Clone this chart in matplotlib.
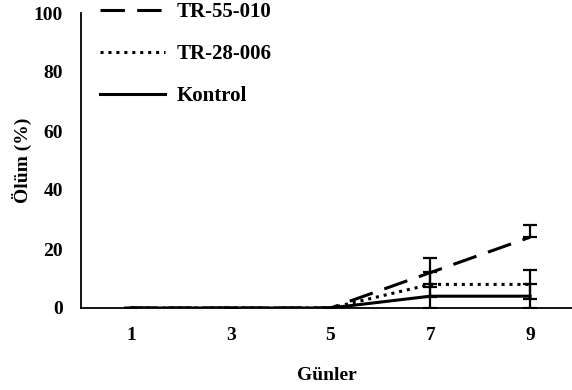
import numpy as np
import matplotlib
matplotlib.use("Agg")
import matplotlib.pyplot as plt

plt.rcParams['font.family'] = ['Liberation Serif', 'DejaVu Serif']
plt.rcParams['font.weight'] = 'bold'

# data
days = ['1', '3', '5', '7', '9']
tr55 = [0, 0, 0, 12, 24]
tr55_lo = [0, 0, 0, 5, 0]
tr55_hi = [0, 0, 0, 5, 4]
tr28 = [0, 0, 0, 8, 8]
tr28_err = [0, 0, 0, 4.3, 5]
kontrol = [0, 0, 0, 4, 4]
kontrol_err = [0, 0, 0, 4, 4]

fig = plt.figure(figsize=(5.72, 3.9), dpi=100)
ax = fig.add_axes([81/572, 82/390, 491/572, 295/390])

x = np.arange(len(days))
lw = 2.2
ax.plot(x, tr55, color='black', lw=lw, dashes=(8, 4), label='TR-55-010')
ax.plot(x, tr28, color='black', lw=lw, linestyle=(0, (1, 1.6)), label='TR-28-006')
ax.plot(x, kontrol, color='black', lw=lw, label='Kontrol')

ebkw = dict(fmt='none', ecolor='black', elinewidth=1.6, capsize=5, capthick=1.6)
ax.errorbar(x, tr55, yerr=[tr55_lo, tr55_hi], **ebkw)
ax.errorbar(x, tr28, yerr=tr28_err, **ebkw)
ax.errorbar(x, kontrol, yerr=kontrol_err, **ebkw)

ax.set_xlim(-0.5, 4.42)
ax.set_ylim(0, 100)
ax.set_xticks(x)
ax.set_xticklabels(days)
ax.set_yticks([0, 20, 40, 60, 80, 100])
ax.tick_params(length=0, labelsize=14)
ax.tick_params(axis='y', pad=13)
ax.tick_params(axis='x', pad=14)
for s in ['top', 'right']:
    ax.spines[s].set_visible(False)
for s in ['left', 'bottom']:
    ax.spines[s].set_linewidth(1.3)

ax.set_xlabel('Günler', fontsize=14, fontweight='bold', labelpad=16)
ax.set_ylabel('Ölüm (%)', fontsize=14, fontweight='bold', labelpad=1)

leg = ax.legend(loc='upper left', bbox_to_anchor=(0.0387, 1.036), frameon=False,
                borderpad=0, borderaxespad=0,
                handlelength=3.1, handletextpad=0.6, labelspacing=1.05,
                prop={'size': 15, 'weight': 'bold'})

fig.savefig('out.png', dpi=100)
